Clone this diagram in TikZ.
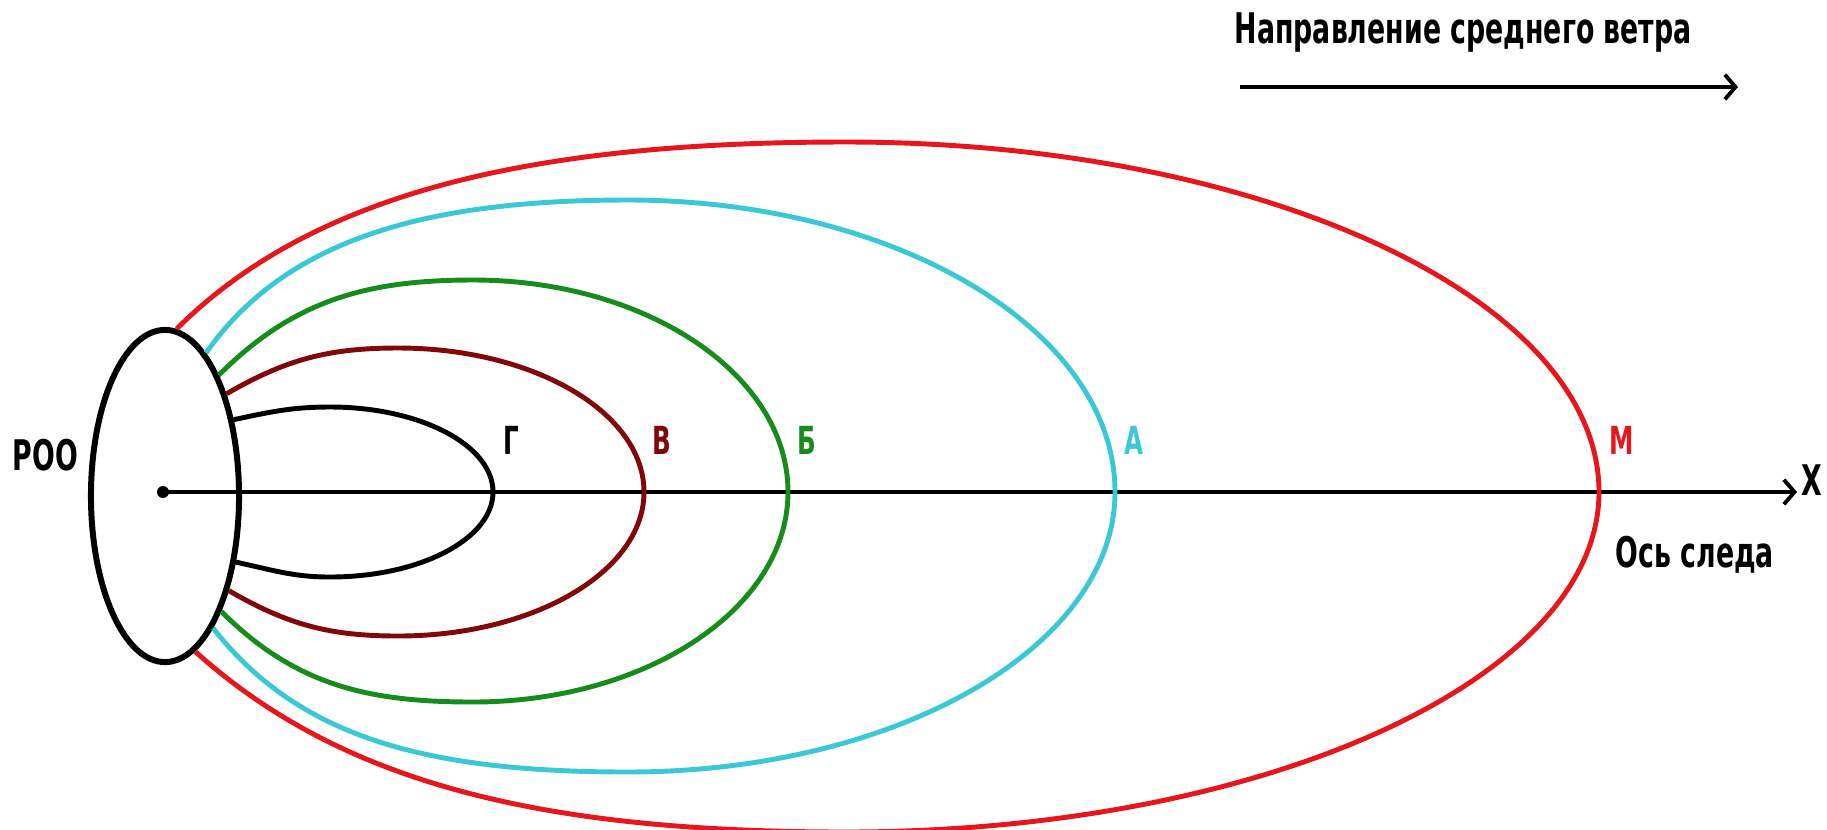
\documentclass[tikz,border=0pt]{standalone}
\usepackage{fontspec}
\setmainfont{DejaVu Sans}[FakeStretch=0.635]
\usetikzlibrary{arrows.meta, positioning, shapes.geometric}
\definecolor{zoneM}{RGB}{230,22,28}
\definecolor{zoneA}{RGB}{58,200,212}
\definecolor{zoneB}{RGB}{22,140,28}
\definecolor{zoneV}{RGB}{128,8,8}
\tikzset{
    zone/.style={line width=1.4pt},
    axisline/.style={-{Straight Barb[length=3pt, width=7pt]}, line width=1.1pt},
    zonelabel/.style={anchor=base west, inner sep=0pt, font=\bfseries\fontsize{11}{13}\selectfont},
    note/.style={anchor=base west, inner sep=0pt},
    every node/.style={font=\bfseries\fontsize{12}{14}\selectfont}
}

\begin{document}
\begin{tikzpicture}[x=0.01cm, y=0.01cm]
\useasboundingbox (0,-337) rectangle (1827,492);
\node[ellipse, draw, line width=1.7pt, minimum width=1.48cm, minimum height=3.32cm, inner sep=0pt] (roo) at (165,-4) {};
\node[note] (roolabel) at (12,22) {РОО};

\coordinate (src) at (163,0);
\coordinate (xend) at (1797,0);
\draw[axisline] (src) -- (xend);
\fill (src) circle[radius=6];
\node[note] (xlabel) at (1801,-3) {X};
\node[note] (trace) at (1615,-75) {Ось следа};

% zones
\draw[zone, zoneM] (roo.86) .. controls +(45:200) and +(-300,0) .. (846,350)
    arc[start angle=90, end angle=0, x radius=753, y radius=350]
    arc[start angle=0, end angle=-90, x radius=753, y radius=340]
    .. controls +(-300,0) and +(-42:200) .. (roo.-79);
\draw[zone, zoneA] (roo.74) .. controls +(55:140) and +(-200,0) .. (628,292)
    arc[start angle=90, end angle=0, x radius=487, y radius=292]
    arc[start angle=0, end angle=-90, x radius=487, y radius=280]
    .. controls +(-200,0) and +(-52:140) .. (roo.-70);
\draw[zone, zoneB] (roo.66) to[out=45, in=180] (473,212)
    arc[start angle=90, end angle=0, x radius=315, y radius=212]
    arc[start angle=0, end angle=-90, x radius=315, y radius=210]
    to[out=180, in=-45] (roo.-64);
\draw[zone, zoneV] (roo.59) to[out=30, in=180] (398,144)
    arc[start angle=90, end angle=0, x radius=246, y radius=144]
    arc[start angle=0, end angle=-90, x radius=246, y radius=144]
    to[out=180, in=-30] (roo.-56);
\draw[zone, black] (roo.48) to[out=12, in=180] (330,85)
    arc[start angle=90, end angle=0, x radius=163, y radius=85]
    arc[start angle=0, end angle=-90, x radius=163, y radius=85]
    to[out=180, in=-12] (roo.-43);

\node[zonelabel, text=black] (lblG) at (503,38) {Г};
\node[zonelabel, text=zoneV] (lblV) at (652,38) {В};
\node[zonelabel, text=zoneB] (lblB) at (797,38) {Б};
\node[zonelabel, text=zoneA] (lblA) at (1124,38) {А};
\node[zonelabel, text=zoneM] (lblM) at (1609,38) {М};

% wind
\node[note] (windtext) at (1234,449) {Направление среднего ветра};
\coordinate (windA) at (1240,405);
\coordinate (windB) at (1738,405);
\draw[axisline] (windA) -- (windB);
\end{tikzpicture}
\end{document}
